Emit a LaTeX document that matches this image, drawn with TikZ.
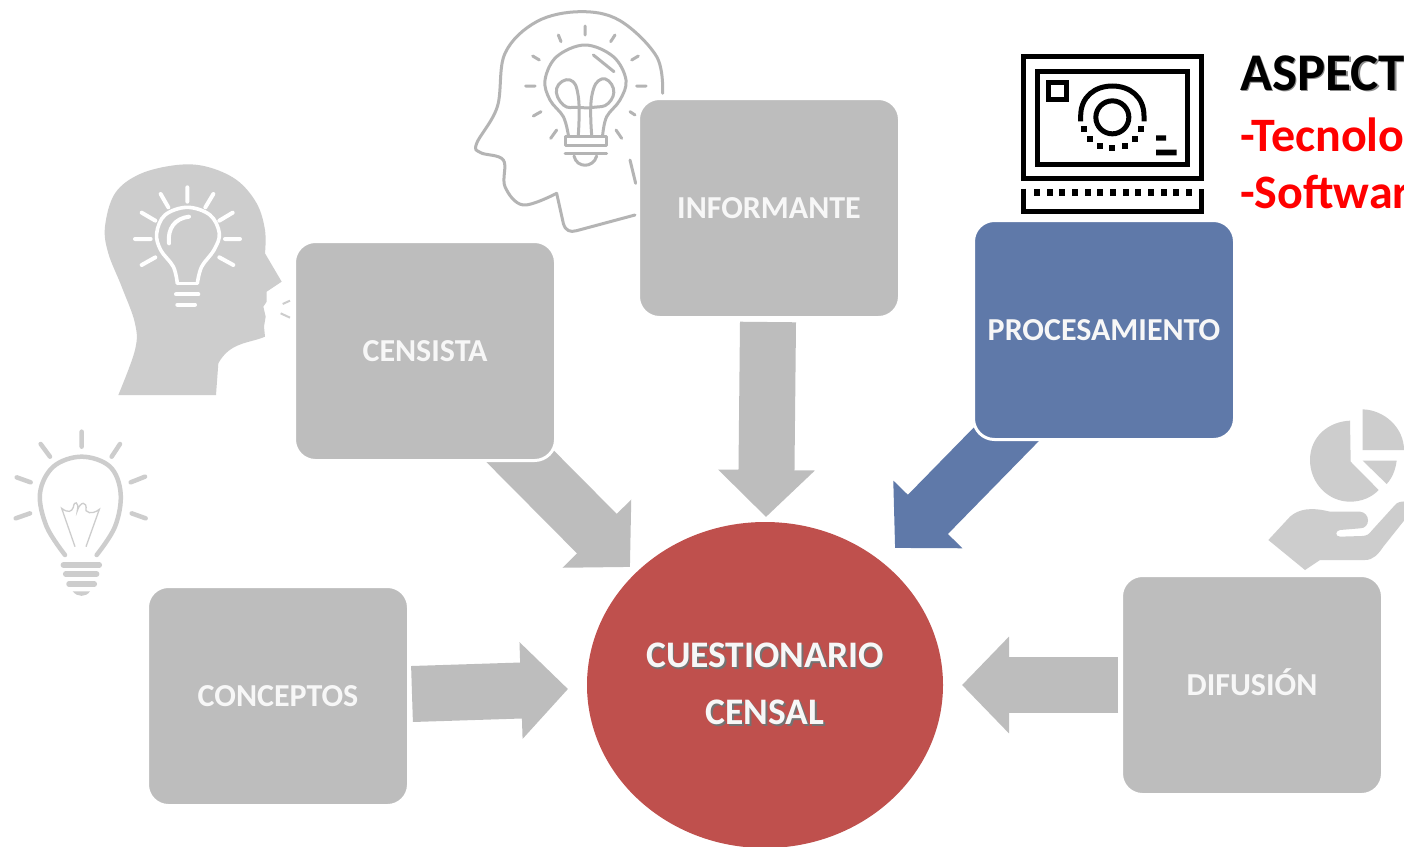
\documentclass[tikz,border=0pt]{standalone}
\usepackage{fontspec}
\setmainfont{Carlito}
\usetikzlibrary{shapes.geometric,arrows.meta}
\definecolor{boxgrey}{HTML}{BDBDBD}
\definecolor{iconfill}{HTML}{CDCDCD}
\definecolor{iconline}{HTML}{B4B4B4}
\definecolor{procblue}{HTML}{5F79A9}
\definecolor{circred}{HTML}{BF504D}
\definecolor{boxtext}{HTML}{F7F7F7}
\newcommand{\softshadow}[2]{\makebox[0pt][l]{\hspace{1.5pt}\raisebox{-1.5pt}{\color{#1}#2}}#2}
\tikzset{
  box/.style={rectangle,rounded corners=21pt,minimum width=261pt,minimum height=219pt,inner sep=0pt,draw=white,line width=3pt,fill=boxgrey,text=boxtext,text height=20pt,text depth=0pt,font=\fontsize{32}{38}\selectfont\bfseries},
  blockarrow/.style={draw=boxgrey,line width=56pt,-{Triangle[length=47pt,width=94pt]}},
  icon/.style 2 args={shift={(#1,#2)},x=0.33333pt,y=-0.33333pt},
  headline/.style={draw=iconline,line width=3pt,line cap=round,line join=round},
  softline/.style={draw=iconfill,line width=4.5pt,line cap=round},
  whiteline/.style={draw=white,line width=3.6pt,line cap=round,line join=round},
  blackline/.style={draw=black,line width=5pt},
  sidehead/.style={anchor=west,inner sep=0pt,font=\fontsize{#1}{#1}\selectfont\bfseries},
}
\begin{document}
\begin{tikzpicture}[x=1pt,y=-1pt]
\useasboundingbox (0,0) rectangle (1404,846);
\clip (0,0) rectangle (1404,846);
\fill[white] (0,0) rectangle (1404,846);

% head with lamp, top
\begin{scope}[icon={460}{0}]
\draw[headline] plot[smooth,tension=0.6] coordinates {(608,280) (590,170) (480,62) (360,35) (230,65) (135,160) (112,320) (50,430) (62,458) (130,480) (135,560) (190,615) (290,580)};
\draw[headline] (290,580) -- (310,670) .. controls (316,692) and (330,698) .. (350,692) -- (525,645);
\draw[headline] (510,480) -- (527,550);
\draw[headline] plot[smooth,tension=0.6] coordinates {(325,405) (310,350) (270,300) (255,240) (290,170) (375,135) (460,170) (498,240) (480,300) (440,350) (428,405)};
\draw[headline] (400,165) -- (462,215);
\draw[headline] plot[smooth,tension=0.8] coordinates {(355,405) (355,290) (330,240) (290,265) (310,315) (355,322) (400,322) (445,310) (460,265) (425,237) (395,290) (395,405)};
\draw[headline] (315,410) rectangle (440,435);
\draw[headline] (315,460) -- (440,460);
\draw[headline] (342,468) .. controls (350,505) and (400,505) .. (410,468);
\draw[headline] (375,78) -- (375,105) (295,105) -- (303,125) (465,105) -- (452,125) (218,168) -- (238,180) (535,168) -- (515,180) (197,258) -- (225,258) (530,258) -- (558,258) (220,348) -- (243,335) (510,335) -- (525,345) (272,415) -- (290,390) (485,415) -- (468,390);
\end{scope}

% head with lamp, left
\begin{scope}[icon={90}{150}]
\fill[iconfill] plot[smooth,tension=0.6] coordinates {(85,735) (135,600) (135,520) (95,410) (55,310) (45,230) (75,130) (150,72) (260,45) (350,50) (440,90) (500,160) (525,240) (525,310)} -- (575,395) -- (530,425) -- (530,455) -- (520,470) -- (527,500) -- (522,530) -- (525,560) .. controls (480,580) and (420,575) .. (385,640) -- (378,735) -- cycle;
\draw[whiteline] plot[smooth,tension=0.6] coordinates {(262,400) (250,350) (212,300) (200,250) (225,195) (292,172) (360,195) (388,250) (372,300) (335,350) (322,400)};
\draw[whiteline] (262,400) -- (322,400);
\draw[whiteline,line width=4pt] (237,280) .. controls (232,235) and (255,205) .. (297,200);
\draw[whiteline,line width=4pt] (258,433) -- (325,433) (262,464) -- (315,464);
\draw[whiteline,line width=4pt] (292,112) -- (292,155) (212,132) -- (235,172) (370,132) -- (346,172) (155,188) -- (196,212) (428,188) -- (388,212) (135,267) -- (182,267) (405,267) -- (450,267) (155,345) -- (196,322) (430,345) -- (388,322);
\draw[draw=iconfill,line width=2pt] (578,462) -- (600,452) (572,490) -- (600,503);
\end{scope}

% lamp, far left
\begin{scope}[icon={0}{420}]
\draw[softline] plot[smooth,tension=0.6] coordinates {(195,405) (140,320) (120,220) (160,140) (245,110) (330,140) (362,220) (345,320) (290,405)};
\draw[softline] (245,35) -- (245,80) (122,72) -- (150,110) (360,72) -- (335,110) (50,172) -- (92,187) (435,170) -- (392,187) (47,295) -- (90,280) (437,295) -- (395,280);
\draw[softline,line width=5.5pt] (190,435) -- (298,435) (197,462) -- (290,462) (207,492) -- (283,492);
\fill[iconfill] (218,514) -- (270,514) .. controls (258,532) and (232,532) .. (218,514) -- cycle;
\draw[draw=iconfill,line width=1.3pt] (225,380) -- (185,265) .. controls (205,280) and (215,275) .. (220,262) .. controls (222,240) and (238,245) .. (232,272) .. controls (240,245) and (262,240) .. (258,272) .. controls (270,285) and (290,275) .. (298,268) -- (258,380);
\end{scope}

% pie chart in a hand
\begin{scope}[icon={1250}{400}]
\fill[iconfill] (300,62) .. controls (235,65) and (180,110) .. (180,180) .. controls (180,250) and (235,305) .. (300,305) .. controls (335,305) and (365,292) .. (386,270) -- (302,185) -- cycle;
\fill[iconfill] (338,28) -- (338,150) -- (462,150) .. controls (462,85) and (405,30) .. (338,28) -- cycle;
\fill[iconfill] (338,182) -- (440,182) .. controls (436,210) and (428,232) .. (410,252) -- cycle;
\fill[iconfill] (55,420) -- (120,350) .. controls (145,328) and (180,320) .. (240,335) -- (330,335) .. controls (362,338) and (362,385) .. (330,385) -- (270,390) .. controls (255,392) and (255,410) .. (270,410) -- (335,408) .. controls (350,408) and (358,402) .. (365,392) -- (435,315) .. controls (442,306) and (455,303) .. (470,305) -- (470,352) -- (400,440) .. controls (385,462) and (370,480) .. (345,480) -- (210,480) -- (165,510) -- cycle;
\end{scope}

% computer
\begin{scope}[icon={1000}{30}]
\draw[blackline] (69,79) rectangle (605,445);
\draw[blackline] (112,123) rectangle (563,402);
\draw[blackline] (146,156) rectangle (198,208);
\draw[blackline] (337,262) circle[radius=16.5pt];
\draw[blackline] (242,274) -- (242,258) .. controls (242,200) and (285,168) .. (337,168) .. controls (389,168) and (432,200) .. (432,258) -- (432,274);
\fill[black] (468,316) rectangle (498,332) (468,359) rectangle (530,376);
\foreach \dx/\dy in {251/298,270/328,300/348,337/355,374/348,404/328,424/298}
  \fill[black] (\dx-9,\dy-9) rectangle (\dx+9,\dy+9);
\draw[blackline] (69,476) -- (69,545) -- (605,545) -- (605,476);
\foreach \k in {0,...,12}
  \fill[black] (102+\k*38,478) rectangle (120+\k*38,497);
\end{scope}

% connector ends
\coordinate (censistaTail) at (495,431);
\coordinate (censistaTip) at (630,567);
\coordinate (informanteTail) at (768,322);
\coordinate (informanteTip) at (766,517);
\coordinate (procTail) at (1032,408);
\coordinate (procTip) at (895,548);
\coordinate (conceptosTail) at (412,694);
\coordinate (conceptosTip) at (568,689);
\coordinate (difusionTail) at (1118,685);
\coordinate (difusionTip) at (962,685);

\draw[blockarrow] (censistaTail) -- (censistaTip);
\draw[blockarrow] (informanteTail) -- (informanteTip);
\draw[blockarrow,draw=procblue] (procTail) -- (procTip);
\draw[blockarrow] (conceptosTail) -- (conceptosTip);
\draw[blockarrow] (difusionTail) -- (difusionTip);

\node[box] (censista) at (425,351) {CENSISTA};
\node[box] (informante) at (769,208) {INFORMANTE};
\node[box,fill=procblue] (procesamiento) at (1104,330) {PROCESAMIENTO};
\node[box] (conceptos) at (278,696) {CONCEPTOS};
\node[box] (difusion) at (1252,685) {DIFUSIÓN};

\node[ellipse,fill=circred,minimum width=356pt,minimum height=326pt,inner sep=0pt,text=boxtext,align=center,font=\fontsize{37.5}{57}\selectfont\bfseries] (cuestionario) at (765,685) {\softshadow{black!55}{CUESTIONARIO}\\\softshadow{black!55}{CENSAL}};

\node[sidehead=53] (aspect) at (1240,74) {\softshadow{black!45}{ASPECT}};
\node[sidehead=48,text=red] (tecnolo) at (1240,135) {-Tecnolo};
\node[sidehead=48,text=red] (softwar) at (1240,192) {-Softwar};
\end{tikzpicture}
\end{document}
